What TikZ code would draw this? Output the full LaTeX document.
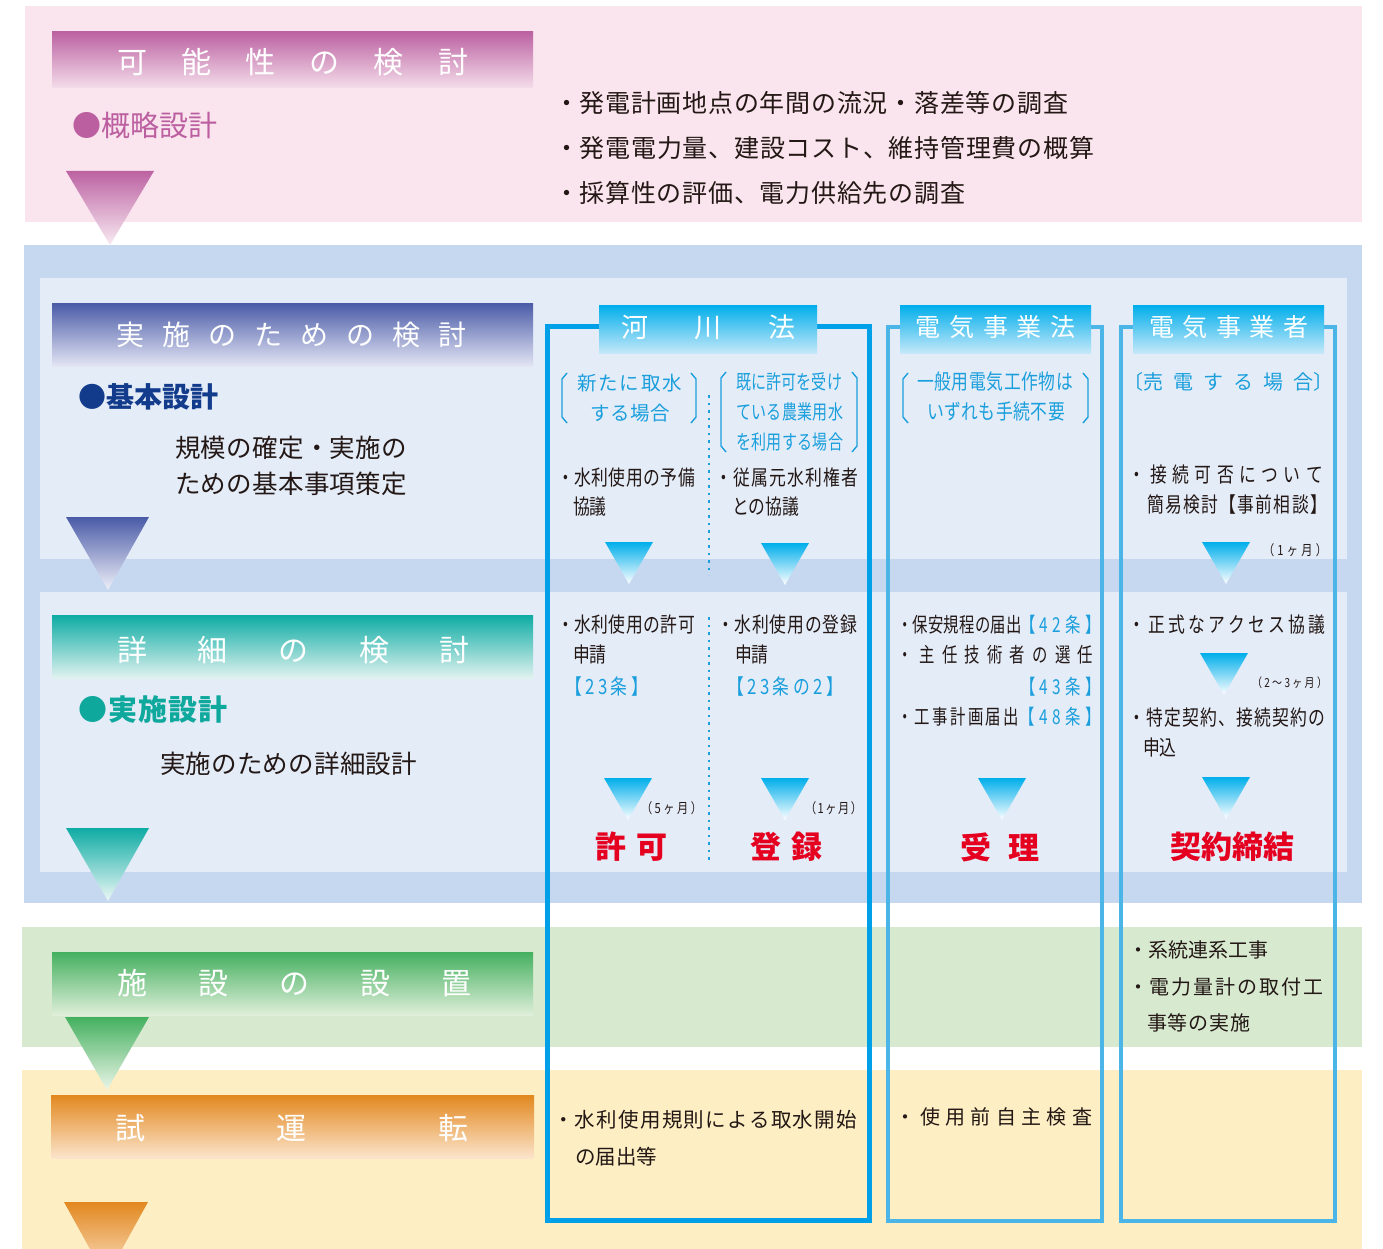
\documentclass[tikz,border=0pt]{standalone}
\usepackage{fontspec}
\setmainfont{Noto Sans CJK JP}
\newfontfamily\cf{Noto Sans CJK JP}[FakeStretch=0.8]
\newfontfamily\cfn{Noto Sans CJK JP}[FakeStretch=0.75]
\newcommand\fsz[1]{\fontsize{#1pt}{#1pt}\selectfont}
% spread characters evenly over a given width
\def\sprdEnd{\sprdEnd}
\def\sprd#1{\sprdA#1\sprdEnd}
\def\sprdA#1{#1\futurelet\sprdNext\sprdB}
\def\sprdB{\ifx\sprdNext\sprdEnd\expandafter\sprdGobble\else\hfill\expandafter\sprdA\fi}
\def\sprdGobble#1{}
\newcommand\spr[2]{\makebox[#1pt][s]{\sprd{#2}}}

\definecolor{ink}{HTML}{231815}
\definecolor{pinkbg}{HTML}{FAE4EE}
\definecolor{bluebg}{HTML}{C6D8EF}
\definecolor{panel}{HTML}{E4ECF8}
\definecolor{greenbg}{HTML}{D7E9CF}
\definecolor{yellowbg}{HTML}{FDEEC3}
\definecolor{magA}{HTML}{BC62A2}
\definecolor{magB}{HTML}{F4DDEA}
\definecolor{navyA}{HTML}{4A5BA7}
\definecolor{navyB}{HTML}{E3E5F4}
\definecolor{tealA}{HTML}{0EACA4}
\definecolor{tealB}{HTML}{E0F2EF}
\definecolor{grnA}{HTML}{44B05F}
\definecolor{grnB}{HTML}{DFEFDA}
\definecolor{orA}{HTML}{E2881F}
\definecolor{orB}{HTML}{FBE4CB}
\definecolor{cyA}{HTML}{00AEEB}
\definecolor{cyB}{HTML}{C4E8F9}
\definecolor{frameA}{HTML}{00A0E9}
\definecolor{frameB}{HTML}{4CB5E8}
\definecolor{cytext}{HTML}{1B9FDC}
\definecolor{redtxt}{HTML}{E50020}
\definecolor{magtxt}{HTML}{BC5FA0}
\definecolor{navytxt}{HTML}{123B8C}
\definecolor{tealtxt}{HTML}{0EA89C}

\newcommand\ctri[2]{\shade[top color=cyA, bottom color=white] ({#1-24},#2) -- ({#1+24},#2) -- (#1,{#2+42}) -- cycle;}
\newcommand\lbr[3]{\draw[brk] ({#1+5},#2) -- (#1,{#2+6}) -- (#1,{#3-6}) -- ({#1+5},#3);}
\newcommand\rbr[3]{\draw[brk] ({#1-5},#2) -- (#1,{#2+6}) -- (#1,{#3-6}) -- ({#1-5},#3);}

\begin{document}
\begin{tikzpicture}[x=1pt,y=-1pt,
  tx/.style={inner sep=0pt, outer sep=0pt, anchor=west, text=ink},
  cy/.style={tx, text=cytext},
  hd/.style={inner sep=0pt, anchor=center, text=white},
  rd/.style={inner sep=0pt, anchor=center, text=redtxt, font=\fsz{31}\bfseries},
  brk/.style={draw=cytext, line width=1.4pt},
  dotl/.style={draw=cytext, line width=2.5pt, dash pattern=on 2.5pt off 5pt}]
\useasboundingbox (0,0) rectangle (1383,1249);
\clip (0,0) rectangle (1383,1249);
\fill[white] (0,0) rectangle (1383,1249);
% bands
\fill[pinkbg] (25,6) rectangle (1362,222);
\fill[bluebg] (24,245) rectangle (1362,903);
\fill[panel] (40,278) rectangle (1347,559);
\fill[panel] (40,592) rectangle (1347,872);
\fill[greenbg] (22,927) rectangle (1362,1047);
\fill[yellowbg] (22,1070) rectangle (1362,1249);
% header bars
\shade[top color=magA, bottom color=magB] (52,32) rectangle (533,88);
\shade[top color=navyA, bottom color=navyB] (52,303) rectangle (533,366);
\shade[top color=tealA, bottom color=tealB] (52,615) rectangle (533,678);
\shade[top color=grnA, bottom color=grnB] (52,952) rectangle (533,1015);
\shade[top color=orA, bottom color=orB] (51,1095) rectangle (534,1158);
% big triangles
\shade[top color=magA, bottom color=magB!60!white] (66,171) -- (154,171) -- (110,245) -- cycle;
\shade[top color=navyA, bottom color=navyB!60!white] (66,517) -- (149,517) -- (108,590) -- cycle;
\shade[top color=tealA, bottom color=tealB!60!white] (66,828) -- (149,828) -- (108,901) -- cycle;
\shade[top color=grnA, bottom color=grnB!60!white] (65,1017) -- (149,1017) -- (107,1090) -- cycle;
\shade[top color=orA, bottom color=orB] (64,1202) -- (148,1202) -- (106,1278) -- cycle;
% column frames
\draw[frameA, line width=4.5pt] (547.5,326.5) rectangle (869.5,1220.5);
\draw[frameB, line width=4pt] (888,326.5) rectangle (1102,1220.5);
\draw[frameB, line width=4pt] (1120.5,326.5) rectangle (1335,1220.5);
% tabs
\shade[top color=cyA, bottom color=cyB] (599,305) rectangle (817,353);
\shade[top color=cyA, bottom color=cyB] (900,305) rectangle (1091,353);
\shade[top color=cyA, bottom color=cyB] (1133,305) rectangle (1324,353);
% dotted divider
\draw[dotl] (709,395) -- (709,575);
\draw[dotl] (709,617) -- (709,862);
% brackets
\lbr{562}{373}{423} \rbr{696}{373}{423}
\lbr{721}{372}{452} \rbr{857}{372}{452}
\lbr{903}{373}{423} \rbr{1088}{373}{423}
% small cyan triangles
\ctri{629}{542} \ctri{785}{543} \ctri{1226}{542}
\ctri{628}{778} \ctri{785}{778} \ctri{1002}{778}
\ctri{1224}{653} \ctri{1226}{777}

% header texts
\node[hd, font=\fsz{30}] (h1) at (292.5,62) {\spr{351}{可能性の検討}};
\node[hd, font=\fsz{28}] (h2) at (291.5,335) {\spr{351}{実施のための検討}};
\node[hd, font=\fsz{30}] (h3) at (293.5,650) {\spr{353}{詳細の検討}};
\node[hd, font=\fsz{30}] (h4) at (294,983) {\spr{354}{施設の設置}};
\node[hd, font=\fsz{30}] (h5) at (291.5,1128) {\spr{353}{試運転}};
\node[hd, font=\fsz{27}] (tb1) at (708.5,327) {\spr{175}{河川法}};
\node[hd, font=\fsz{25}] (tb2) at (995.5,327) {\spr{160}{電気事業法}};
\node[hd, font=\fsz{25}] (tb3) at (1228.5,327) {\spr{159}{電気事業者}};

% left column
\node[tx, text=magtxt, font=\fsz{29}] (g1) at (72,125) {●概略設計};
\node[tx, text=navytxt, font=\fsz{28}\bfseries] (g2) at (78,397) {●基本設計};
\node[tx, text=tealtxt, font=\fsz{29}\bfseries] (g3) at (78,710) {\spr{150}{●実施設計}};
\node[tx, font=\fsz{25.5}] (d1) at (175,448) {\spr{232}{規模の確定・実施の}};
\node[tx, font=\fsz{25.5}] (d2) at (175,484) {\spr{232}{ための基本事項策定}};
\node[tx, font=\fsz{25.5}] (d3) at (160,764) {\spr{257}{実施のための詳細設計}};

% top right
\node[tx, font=\fsz{25}] (p1) at (554,103) {\spr{514}{・発電計画地点の年間の流況・落差等の調査}};
\node[tx, font=\fsz{25}] (p2) at (554,148) {\spr{540}{・発電電力量、建設コスト、維持管理費の概算}};
\node[tx, font=\fsz{25}] (p3) at (554,193) {\spr{411}{・採算性の評価、電力供給先の調査}};

% column 1 (河川法)
\node[cy, font=\fsz{19.5}] (c1) at (577,383) {\spr{105}{新たに取水}};
\node[cy, font=\fsz{19.5}] (c2) at (590,413) {\spr{80}{する場合}};
\node[cy, font=\cfn\fsz{20}] (c3) at (736,382) {\spr{106}{既に許可を受け}};
\node[cy, font=\cfn\fsz{20}] (c4) at (736,412) {\spr{107}{ている農業用水}};
\node[cy, font=\cfn\fsz{20}] (c5) at (736,442) {\spr{107}{を利用する場合}};
\node[tx, font=\cf\fsz{21}] (c6) at (557,478) {\spr{138}{・水利使用の予備}};
\node[tx, font=\cf\fsz{21}] (c7) at (573,507) {協議};
\node[tx, font=\cf\fsz{21}] (c8) at (715,478) {\spr{143}{・従属元水利権者}};
\node[tx, font=\cf\fsz{21}] (c9) at (732,507) {との協議};
\node[tx, font=\cf\fsz{21}] (c10) at (557,625) {\spr{138}{・水利使用の許可}};
\node[tx, font=\cf\fsz{21}] (c11) at (573,655) {申請};
\node[cy, font=\cf\fsz{21}] (c12) at (565,687) {\spr{83}{【23条】}};
\node[tx, font=\cf\fsz{21}] (c13) at (717,625) {\spr{140}{・水利使用の登録}};
\node[tx, font=\cf\fsz{21}] (c14) at (735,655) {申請};
\node[cy, font=\cf\fsz{21}] (c15) at (727,687) {\spr{116}{【23条の2】}};
\node[tx, font=\cf\fsz{14}] (c16) at (641,808) {\spr{61}{（5ヶ月）}};
\node[tx, font=\cf\fsz{14}] (c17) at (805,808) {\spr{57}{（1ヶ月）}};
\node[rd] (c18) at (631.5,847) {\spr{73}{許可}};
\node[rd] (c19) at (786.5,847) {\spr{73}{登録}};
\node[tx, font=\fsz{20.5}] (c20) at (553,1120) {\spr{304}{・水利使用規則による取水開始}};
\node[tx, font=\fsz{20.5}] (c21) at (575,1157) {の届出等};

% column 2 (電気事業法)
\node[cy, font=\cf\fsz{21}] (e1) at (917,382) {\spr{156}{一般用電気工作物は}};
\node[cy, font=\cf\fsz{21}] (e2) at (927,412) {\spr{138}{いずれも手続不要}};
\node[tx, font=\cfn\fsz{20.5}] (e3) at (897,625) {\spr{125}{・保安規程の届出}};
\node[cy, font=\cfn\fsz{20.5}] (e4) at (1020,625) {\spr{81}{【42条】}};
\node[tx, font=\cfn\fsz{20.5}] (e5) at (897,655) {\spr{196}{・主任技術者の選任}};
\node[cy, font=\cfn\fsz{20.5}] (e6) at (1020,687) {\spr{81}{【43条】}};
\node[tx, font=\cfn\fsz{20.5}] (e7) at (897,717) {\spr{122}{・工事計画届出}};
\node[cy, font=\cfn\fsz{20.5}] (e8) at (1019,717) {\spr{82}{【48条】}};
\node[rd] (e9) at (1000,847) {\spr{80}{受理}};
\node[tx, font=\fsz{20}] (e10) at (895,1117) {\spr{197}{・使用前自主検査}};

% column 3 (電気事業者)
\node[cy, font=\fsz{20}, anchor=east] (f1) at (1143,382) {〔};
\node[cy, font=\fsz{20}] (f2) at (1143,382) {\spr{170}{売電する場合}};
\node[cy, font=\fsz{20}] (f3) at (1313,382) {〕};
\node[tx, font=\cf\fsz{21}] (f4) at (1128,475) {\spr{195}{・接続可否について}};
\node[tx, font=\cf\fsz{21}] (f5) at (1147,505) {\spr{180}{簡易検討【事前相談】}};
\node[tx, font=\cf\fsz{14}] (f6) at (1263,550) {\spr{64}{（1ヶ月）}};
\node[tx, font=\cf\fsz{21}] (f7) at (1128,625) {\spr{197}{・正式なアクセス協議}};
\node[tx, font=\cf\fsz{12.5}] (f8) at (1252,683) {\spr{75}{（2～3ヶ月）}};
\node[tx, font=\cf\fsz{21}] (f9) at (1128,718) {\spr{197}{・特定契約、接続契約の}};
\node[tx, font=\cf\fsz{21}] (f10) at (1143,748) {申込};
\node[rd] (f11) at (1232.5,847) {契約締結};
\node[tx, font=\fsz{20}] (f12) at (1128,950) {・系統連系工事};
\node[tx, font=\fsz{20}] (f13) at (1128,987) {\spr{195}{・電力量計の取付工}};
\node[tx, font=\fsz{20}] (f14) at (1147,1023) {\spr{103}{事等の実施}};
\end{tikzpicture}
\end{document}
